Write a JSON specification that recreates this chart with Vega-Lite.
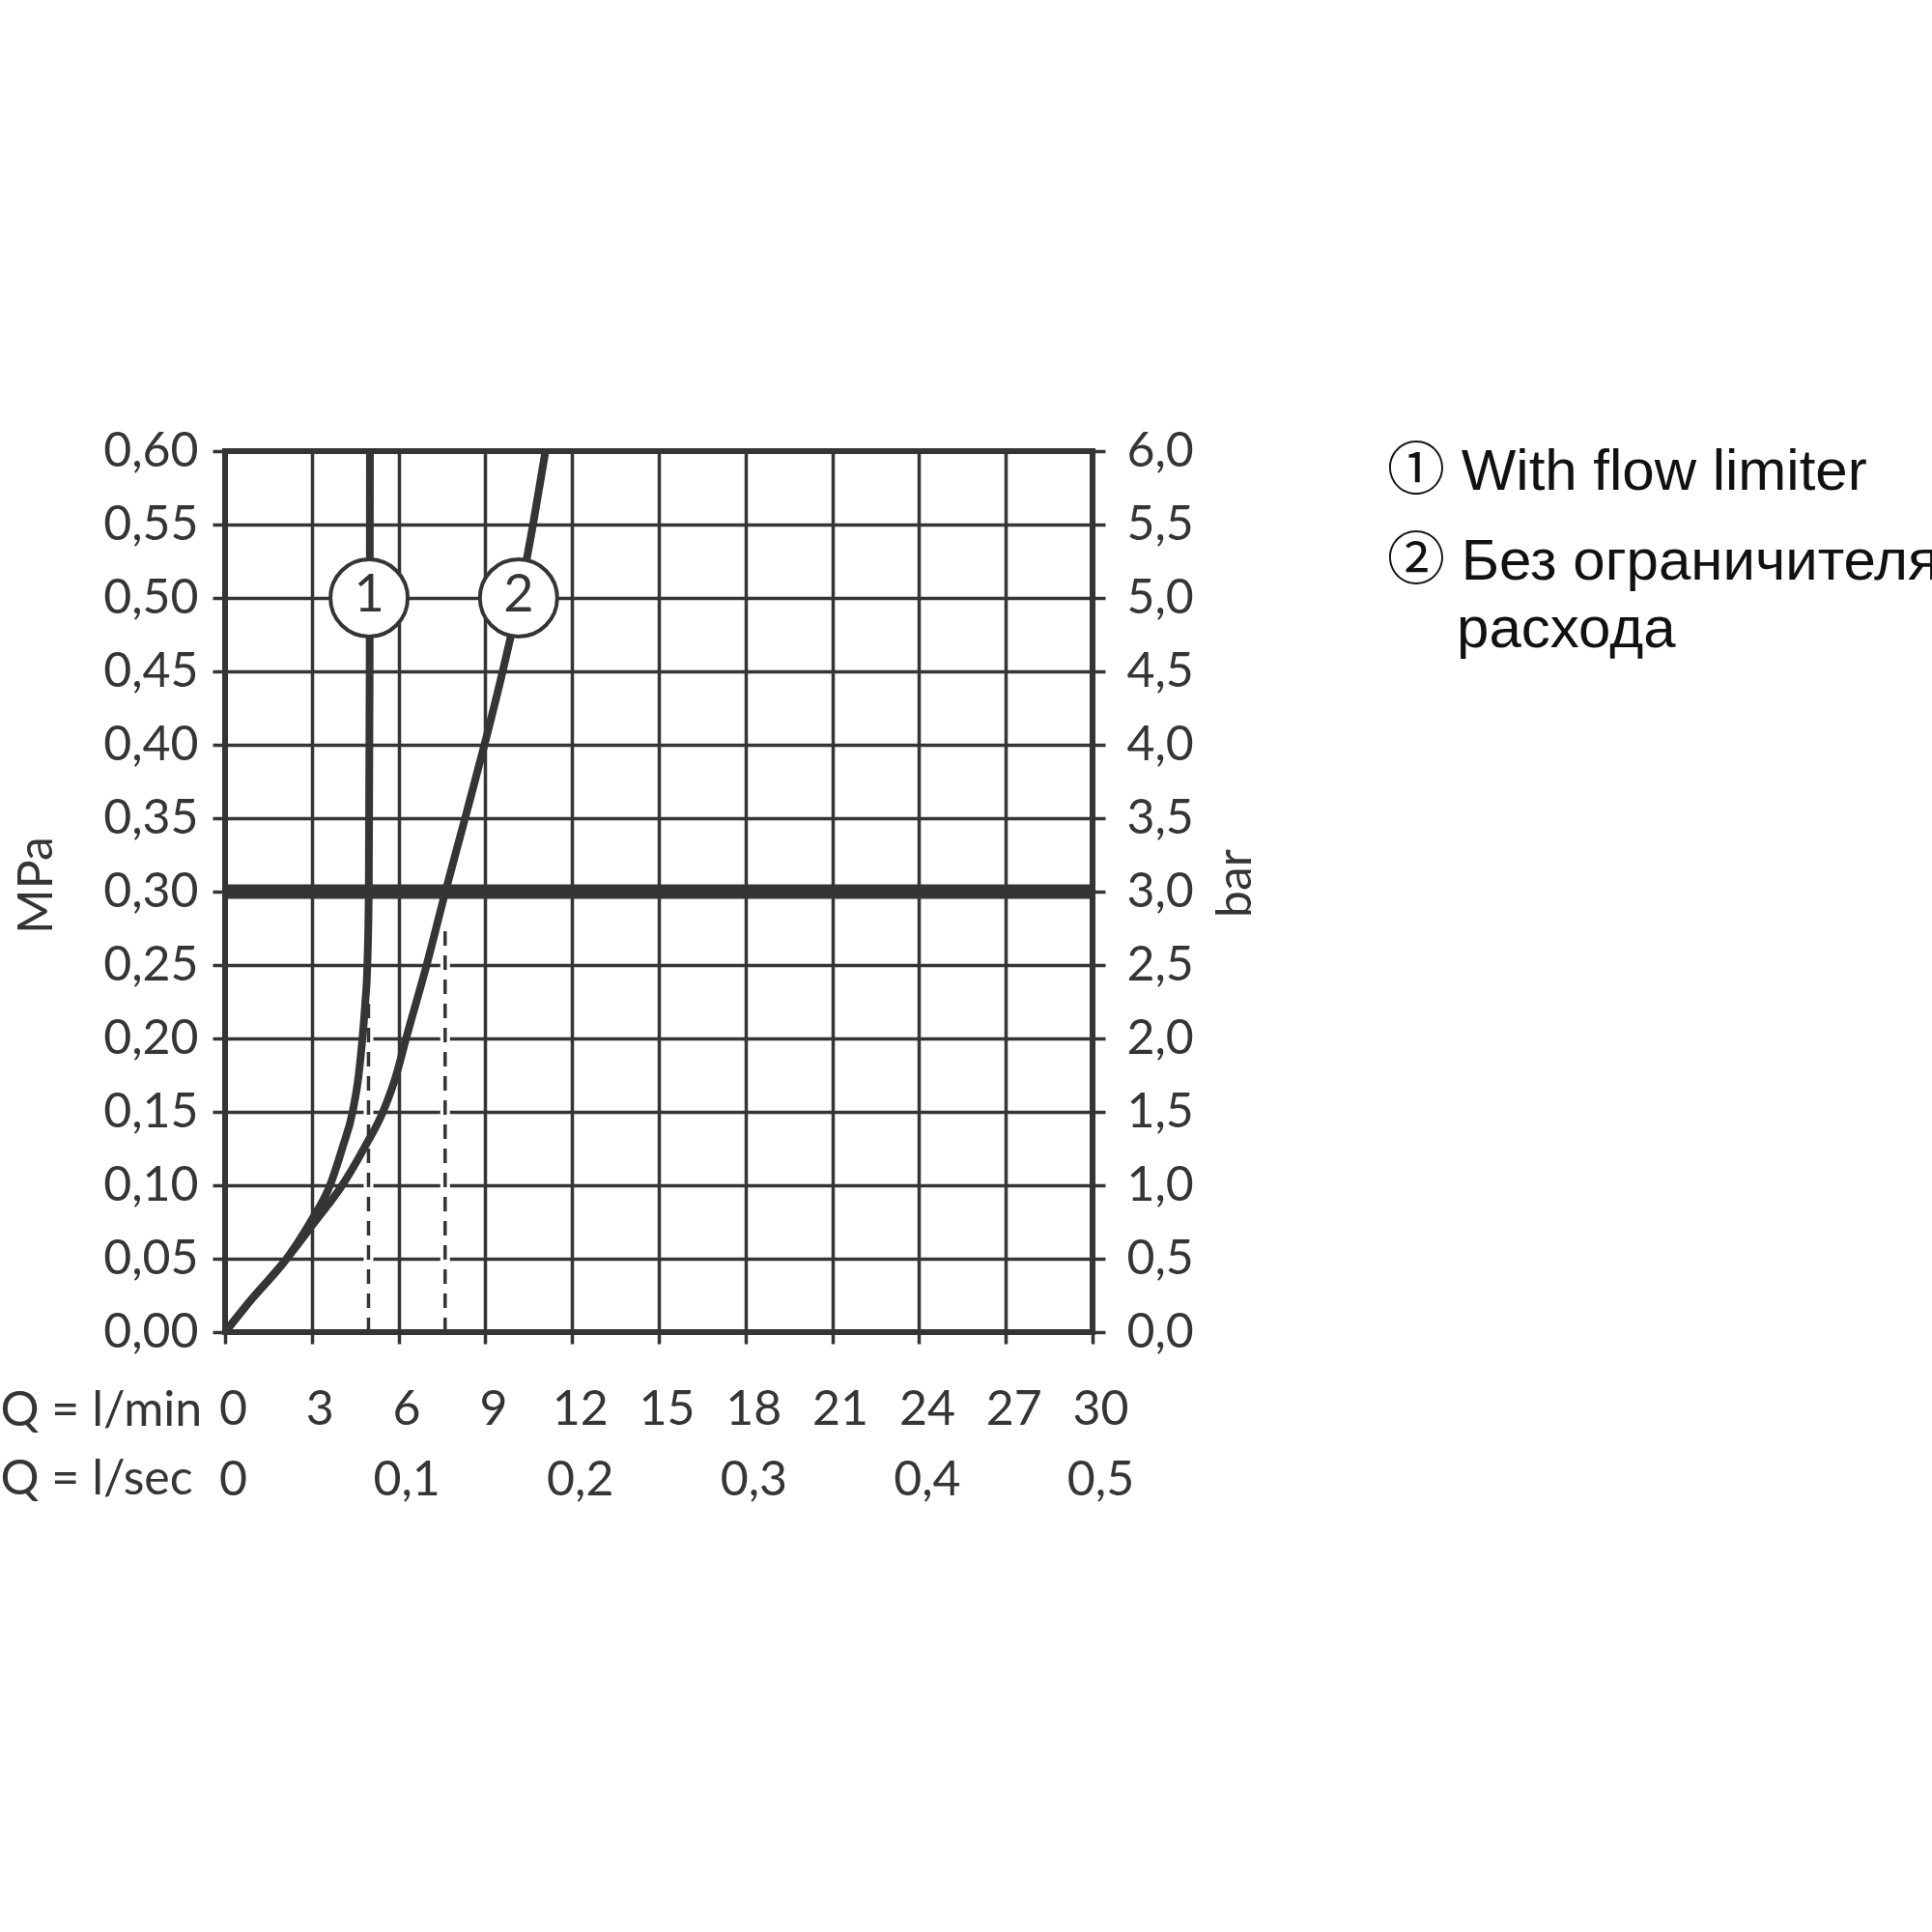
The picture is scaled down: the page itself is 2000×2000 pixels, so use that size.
{
  "$schema": "https://vega.github.io/schema/vega-lite/v6.json",
  "width": 898,
  "height": 912,
  "autosize": {"type": "none"},
  "padding": {"left": 233, "top": 467, "right": 869, "bottom": 621},
  "background": "white",
  "config": {
    "view": {"stroke": "#353535", "strokeWidth": 6},
    "axis": {
      "labelFont": "Lato", "labelFontWeight": 400, "labelFontSize": 50, "labelColor": "#353535",
      "titleFont": "Lato", "titleFontWeight": 400, "titleFontSize": 50, "titleColor": "#353535",
      "domain": false, "tickColor": "#353535", "tickWidth": 3.5,
      "gridColor": "#353535", "gridWidth": 3.5, "gridOpacity": 1,
      "labelFlush": false, "labelOverlap": false, "labelBound": false
    }
  },
  "datasets": {
    "curves": [
      {"series": "1", "q": 0, "p": 0},
      {"series": "1", "q": 0.9, "p": 0.022},
      {"series": "1", "q": 2.13, "p": 0.05},
      {"series": "1", "q": 2.95, "p": 0.075},
      {"series": "1", "q": 3.63, "p": 0.1},
      {"series": "1", "q": 4.05, "p": 0.125},
      {"series": "1", "q": 4.41, "p": 0.15},
      {"series": "1", "q": 4.62, "p": 0.175},
      {"series": "1", "q": 4.75, "p": 0.2},
      {"series": "1", "q": 4.85, "p": 0.225},
      {"series": "1", "q": 4.92, "p": 0.25},
      {"series": "1", "q": 4.97, "p": 0.3},
      {"series": "1", "q": 5.0, "p": 0.45},
      {"series": "1", "q": 5.01, "p": 0.6},
      {"series": "2", "q": 0, "p": 0},
      {"series": "2", "q": 0.9, "p": 0.022},
      {"series": "2", "q": 2.13, "p": 0.05},
      {"series": "2", "q": 3.1, "p": 0.075},
      {"series": "2", "q": 4.05, "p": 0.1},
      {"series": "2", "q": 4.8, "p": 0.125},
      {"series": "2", "q": 5.46, "p": 0.15},
      {"series": "2", "q": 5.92, "p": 0.175},
      {"series": "2", "q": 6.26, "p": 0.2},
      {"series": "2", "q": 6.97, "p": 0.25},
      {"series": "2", "q": 7.62, "p": 0.3},
      {"series": "2", "q": 8.3, "p": 0.35},
      {"series": "2", "q": 8.97, "p": 0.4},
      {"series": "2", "q": 9.6, "p": 0.45},
      {"series": "2", "q": 10.17, "p": 0.5},
      {"series": "2", "q": 10.65, "p": 0.55},
      {"series": "2", "q": 11.08, "p": 0.6}
    ],
    "dashes": [
      {"series": "1", "q": 4.96, "p0": 0, "p1": 0.23},
      {"series": "2", "q": 7.61, "p0": 0, "p1": 0.278}
    ],
    "markers": [
      {"series": "1", "q": 4.98, "p": 0.5},
      {"series": "2", "q": 10.15, "p": 0.5}
    ],
    "limit": [{"p": 0.3}]
  },
  "layer": [
    {
      "data": {"name": "dashes"},
      "mark": {"type": "rule", "color": "white", "strokeWidth": 10, "yOffset": -4},
      "encoding": {
        "x": {"field": "q", "type": "quantitative", "scale": {"domain": [0, 30], "nice": false},
          "axis": {
            "orient": "bottom",
            "values": [0, 6, 12, 18, 24, 30],
            "labelExpr": "datum.value == 0 ? '0' : replace(format(datum.value / 60, '.1f'), '.', ',')",
            "ticks": false, "tickSize": 0, "grid": false,
            "labelPadding": 128, "labelOffset": 8, "labelBaseline": "top",
            "title": "Q = l/sec", "titleX": -233, "titleY": 167, "titleAlign": "left", "titleBaseline": "alphabetic", "titleAngle": 0
          }},
        "y": {"field": "p0", "type": "quantitative", "scale": {"domain": [0, 0.6], "nice": false}, "axis": null},
        "y2": {"field": "p1"}
      }
    },
    {
      "data": {"name": "dashes"},
      "mark": {"type": "rule", "color": "#353535", "strokeWidth": 3.5, "strokeDash": [15, 10]},
      "encoding": {
        "x": {"field": "q", "type": "quantitative", "axis": null},
        "y": {"field": "p0", "type": "quantitative", "axis": null},
        "y2": {"field": "p1"}
      }
    },
    {
      "data": {"name": "curves"},
      "mark": {"type": "line", "strokeWidth": 8, "interpolate": "monotone"},
      "encoding": {
        "x": {"field": "q", "type": "quantitative",
          "axis": {
            "orient": "bottom",
            "values": [0, 3, 6, 9, 12, 15, 18, 21, 24, 27, 30],
            "grid": true, "tickSize": 12,
            "labelPadding": 43, "labelOffset": 8, "labelBaseline": "top",
            "title": "Q = l/min", "titleX": -233, "titleY": 96, "titleAlign": "left", "titleBaseline": "alphabetic", "titleAngle": 0
          }},
        "y": {"field": "p", "type": "quantitative",
          "axis": {
            "orient": "left",
            "values": [0, 0.05, 0.1, 0.15, 0.2, 0.25, 0.3, 0.35, 0.4, 0.45, 0.5, 0.55, 0.6],
            "labelExpr": "replace(format(datum.value, '.2f'), '.', ',')",
            "grid": true, "tickSize": 13, "labelPadding": 15,
            "title": "MPa", "titleX": -195, "titleY": 449, "titleAngle": 270, "titleAlign": "center", "titleBaseline": "middle"
          }},
        "order": {"field": "p", "type": "quantitative"},
        "color": {"field": "series", "type": "nominal",
          "scale": {"domain": ["1", "2"], "range": ["#353535", "#353535"]},
          "legend": {
            "orient": "none", "legendX": 1143, "legendY": -37, "title": null, "direction": "vertical",
            "symbolType": "circle", "symbolSize": 0, "symbolOpacity": 0, "symbolStrokeWidth": 0,
            "labelOffset": 0, "labelFont": "Liberation Sans, Noto Sans CJK JP", "labelFontSize": 60,
            "labelColor": "#111111", "labelLimit": 3000, "labelBaseline": "top",
            "rowPadding": 4, "gridAlign": "each",
            "labelExpr": "datum.label == '1' ? '① With flow limiter' : ['② Без ограничителя', '\u200d\u2003\u2009расхода']",
            "encode": {"labels": {"update": {"lineHeight": {"value": 70}}}}
          }}
      }
    },
    {
      "data": {"name": "limit"},
      "mark": {"type": "rule", "color": "#353535", "strokeWidth": 15},
      "encoding": {
        "y": {"field": "p", "type": "quantitative",
          "axis": {
            "orient": "right",
            "values": [0, 0.05, 0.1, 0.15, 0.2, 0.25, 0.3, 0.35, 0.4, 0.45, 0.5, 0.55, 0.6],
            "labelExpr": "replace(format(datum.value * 10, '.1f'), '.', ',')",
            "grid": false, "tickSize": 13, "labelPadding": 22,
            "title": "bar", "titleX": 148, "titleY": 447, "titleAngle": 270, "titleAlign": "center", "titleBaseline": "middle"
          }}
      }
    },
    {
      "data": {"name": "markers"},
      "mark": {"type": "point", "shape": "circle", "filled": true, "fill": "white", "stroke": "#353535", "strokeWidth": 4, "size": 6400, "opacity": 1},
      "encoding": {
        "x": {"field": "q", "type": "quantitative", "axis": null},
        "y": {"field": "p", "type": "quantitative", "axis": null}
      }
    },
    {
      "data": {"name": "markers"},
      "mark": {"type": "text", "font": "Lato", "fontWeight": 400, "fontSize": 54, "color": "#353535", "baseline": "middle", "align": "center", "dy": -2},
      "encoding": {
        "x": {"field": "q", "type": "quantitative", "axis": null},
        "y": {"field": "p", "type": "quantitative", "axis": null},
        "text": {"field": "series"}
      }
    }
  ],
  "resolve": {"axis": {"x": "independent", "y": "independent"}}
}
